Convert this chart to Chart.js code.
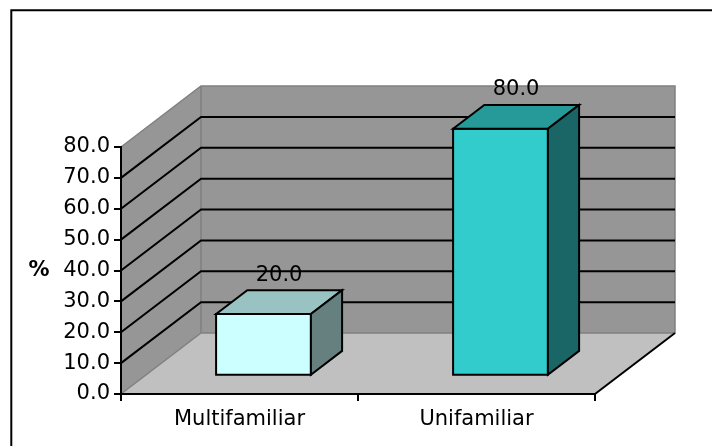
<!DOCTYPE html>
<html>
<head>
<meta charset="utf-8">
<script src="https://cdn.jsdelivr.net/npm/chart.js@4.4.0/dist/chart.umd.min.js"></script>
<style>
  html, body { margin: 0; padding: 0; background: #ffffff; }
  #wrap { width: 712px; height: 446px; }
</style>
</head>
<body>
<div id="wrap"><canvas id="c" width="712" height="446"></canvas></div>
<script>
// Housing type shares (%)
const categories = ['Multifamiliar', 'Unifamiliar'];
const percentages = [20.0, 80.0];
const yAxisMin = 0;
const yAxisMax = 80;
const yAxisStep = 10;
const yAxisTitle = '%';

// Box colours per bar: front, top, side
const boxColours = [
  { front: '#CCFFFF', top: '#99C2C2', side: '#668080' },
  { front: '#33CCCC', top: '#269999', side: '#1A6666' }
];

// 3D projection of the plot box: depth offset and the slab the bars occupy
const DEPTH_X = 80;
const DEPTH_Y = -61;
const BAR_FRONT = 0.30;
const BAR_BACK = 0.69;

const FONT = 'DejaVu Sans';

const box3d = {
  id: 'box3d',
  beforeDraw(chart) {
    const ctx = chart.ctx;
    const { left, right, top, bottom } = chart.chartArea;
    const y = chart.scales.y;
    ctx.save();
    ctx.fillStyle = '#ffffff';
    ctx.fillRect(0, 0, chart.width, chart.height);

    // outer frame
    ctx.strokeStyle = '#000000';
    ctx.lineWidth = 2;
    ctx.beginPath();
    ctx.moveTo(11.3, chart.height + 5);
    ctx.lineTo(11.3, 10.3);
    ctx.lineTo(chart.width + 5, 10.3);
    ctx.stroke();

    const bx = left + DEPTH_X, by = DEPTH_Y;
    // side wall
    ctx.fillStyle = '#969696';
    ctx.beginPath();
    ctx.moveTo(left, bottom);
    ctx.lineTo(left, top);
    ctx.lineTo(bx, top + by);
    ctx.lineTo(bx, bottom + by);
    ctx.closePath();
    ctx.fill();
    // back wall
    ctx.beginPath();
    ctx.rect(bx, top + by, right - left, bottom - top);
    ctx.fill();
    // floor
    ctx.fillStyle = '#C0C0C0';
    ctx.beginPath();
    ctx.moveTo(left, bottom);
    ctx.lineTo(right, bottom);
    ctx.lineTo(right + DEPTH_X, bottom + by);
    ctx.lineTo(bx, bottom + by);
    ctx.closePath();
    ctx.fill();

    // wall outlines
    ctx.strokeStyle = '#808080';
    ctx.lineWidth = 1.5;
    ctx.beginPath();
    ctx.moveTo(left, top);
    ctx.lineTo(bx, top + by);
    ctx.lineTo(right + DEPTH_X, top + by);
    ctx.lineTo(right + DEPTH_X, bottom + by);
    ctx.lineTo(bx, bottom + by);
    ctx.lineTo(left, bottom);
    ctx.moveTo(bx, top + by);
    ctx.lineTo(bx, bottom + by);
    ctx.stroke();

    // gridlines on side and back walls
    ctx.strokeStyle = '#000000';
    ctx.lineWidth = 2;
    ctx.beginPath();
    y.ticks.forEach(t => {
      if (t.value <= yAxisMin || t.value >= yAxisMax) return;
      const yy = y.getPixelForValue(t.value);
      ctx.moveTo(left, yy);
      ctx.lineTo(bx, yy + by);
      ctx.lineTo(right + DEPTH_X, yy + by);
    });
    ctx.stroke();

    // floor right edge
    ctx.beginPath();
    ctx.moveTo(right, bottom);
    ctx.lineTo(right + DEPTH_X, bottom + by);
    ctx.stroke();
    ctx.restore();
  },
  afterDatasetsDraw(chart) {
    const ctx = chart.ctx;
    const meta = chart.getDatasetMeta(0);
    const values = chart.data.datasets[0].data;
    ctx.save();
    ctx.lineWidth = 2;
    ctx.lineJoin = 'miter';
    ctx.strokeStyle = '#000000';
    meta.data.forEach((el, i) => {
      const c = boxColours[i % boxColours.length];
      const half = el.width / 2;
      const x0 = el.x - half + BAR_FRONT * DEPTH_X;
      const x1 = el.x + half + BAR_FRONT * DEPTH_X;
      const yT = el.y + BAR_FRONT * DEPTH_Y;
      const yB = el.base + BAR_FRONT * DEPTH_Y;
      const dx = (BAR_BACK - BAR_FRONT) * DEPTH_X;
      const dy = (BAR_BACK - BAR_FRONT) * DEPTH_Y;

      // front face
      ctx.fillStyle = c.front;
      ctx.beginPath();
      ctx.rect(x0, yT, x1 - x0, yB - yT);
      ctx.fill();
      ctx.stroke();
      // top face
      ctx.fillStyle = c.top;
      ctx.beginPath();
      ctx.moveTo(x0, yT);
      ctx.lineTo(x0 + dx, yT + dy);
      ctx.lineTo(x1 + dx, yT + dy);
      ctx.lineTo(x1, yT);
      ctx.closePath();
      ctx.fill();
      ctx.stroke();
      // side face
      ctx.fillStyle = c.side;
      ctx.beginPath();
      ctx.moveTo(x1, yT);
      ctx.lineTo(x1 + dx, yT + dy);
      ctx.lineTo(x1 + dx, yB + dy);
      ctx.lineTo(x1, yB);
      ctx.closePath();
      ctx.fill();
      ctx.stroke();

      // value label above the box
      ctx.fillStyle = '#000000';
      ctx.font = '21px "' + FONT + '"';
      ctx.textAlign = 'center';
      ctx.textBaseline = 'middle';
      const mid = (BAR_FRONT + BAR_BACK) / 2;
      ctx.fillText(Number(values[i]).toFixed(1), el.x + mid * DEPTH_X, yT + dy - 15);
    });
    ctx.restore();
  },
  afterDraw(chart) {
    const ctx = chart.ctx;
    const { top, bottom } = chart.chartArea;
    ctx.save();
    ctx.fillStyle = '#000000';
    ctx.font = 'bold 21px "' + FONT + '"';
    ctx.textAlign = 'center';
    ctx.textBaseline = 'middle';
    ctx.fillText(yAxisTitle, 39, (top + bottom) / 2);
    ctx.restore();
  }
};

new Chart(document.getElementById('c'), {
  type: 'bar',
  data: {
    labels: categories,
    datasets: [{
      data: percentages,
      backgroundColor: 'rgba(0,0,0,0)',
      borderWidth: 0,
      barPercentage: 0.4,
      categoryPercentage: 1.0
    }]
  },
  options: {
    responsive: false,
    animation: false,
    devicePixelRatio: 1,
    layout: { padding: { top: 147, right: 117, bottom: 0, left: 0 } },
    plugins: { legend: { display: false }, tooltip: { enabled: false } },
    scales: {
      x: {
        type: 'category',
        offset: true,
        grid: { offset: true, drawOnChartArea: false, drawTicks: true, tickLength: 7, color: '#000000', lineWidth: 2 },
        border: { color: '#000000', width: 2 },
        ticks: { color: '#000000', font: { family: FONT, size: 21 }, padding: 6, maxRotation: 0 },
        afterFit(s) { s.height = 52; }
      },
      y: {
        min: yAxisMin,
        max: yAxisMax,
        grid: { drawOnChartArea: false, drawTicks: true, tickLength: 7, color: '#000000', lineWidth: 2 },
        border: { color: '#000000', width: 2 },
        ticks: {
          stepSize: yAxisStep,
          color: '#000000',
          font: { family: FONT, size: 21 },
          padding: 4,
          callback: v => Number(v).toFixed(1)
        },
        afterFit(s) { s.width = 121; }
      }
    }
  },
  plugins: [box3d]
});
</script>
</body>
</html>
